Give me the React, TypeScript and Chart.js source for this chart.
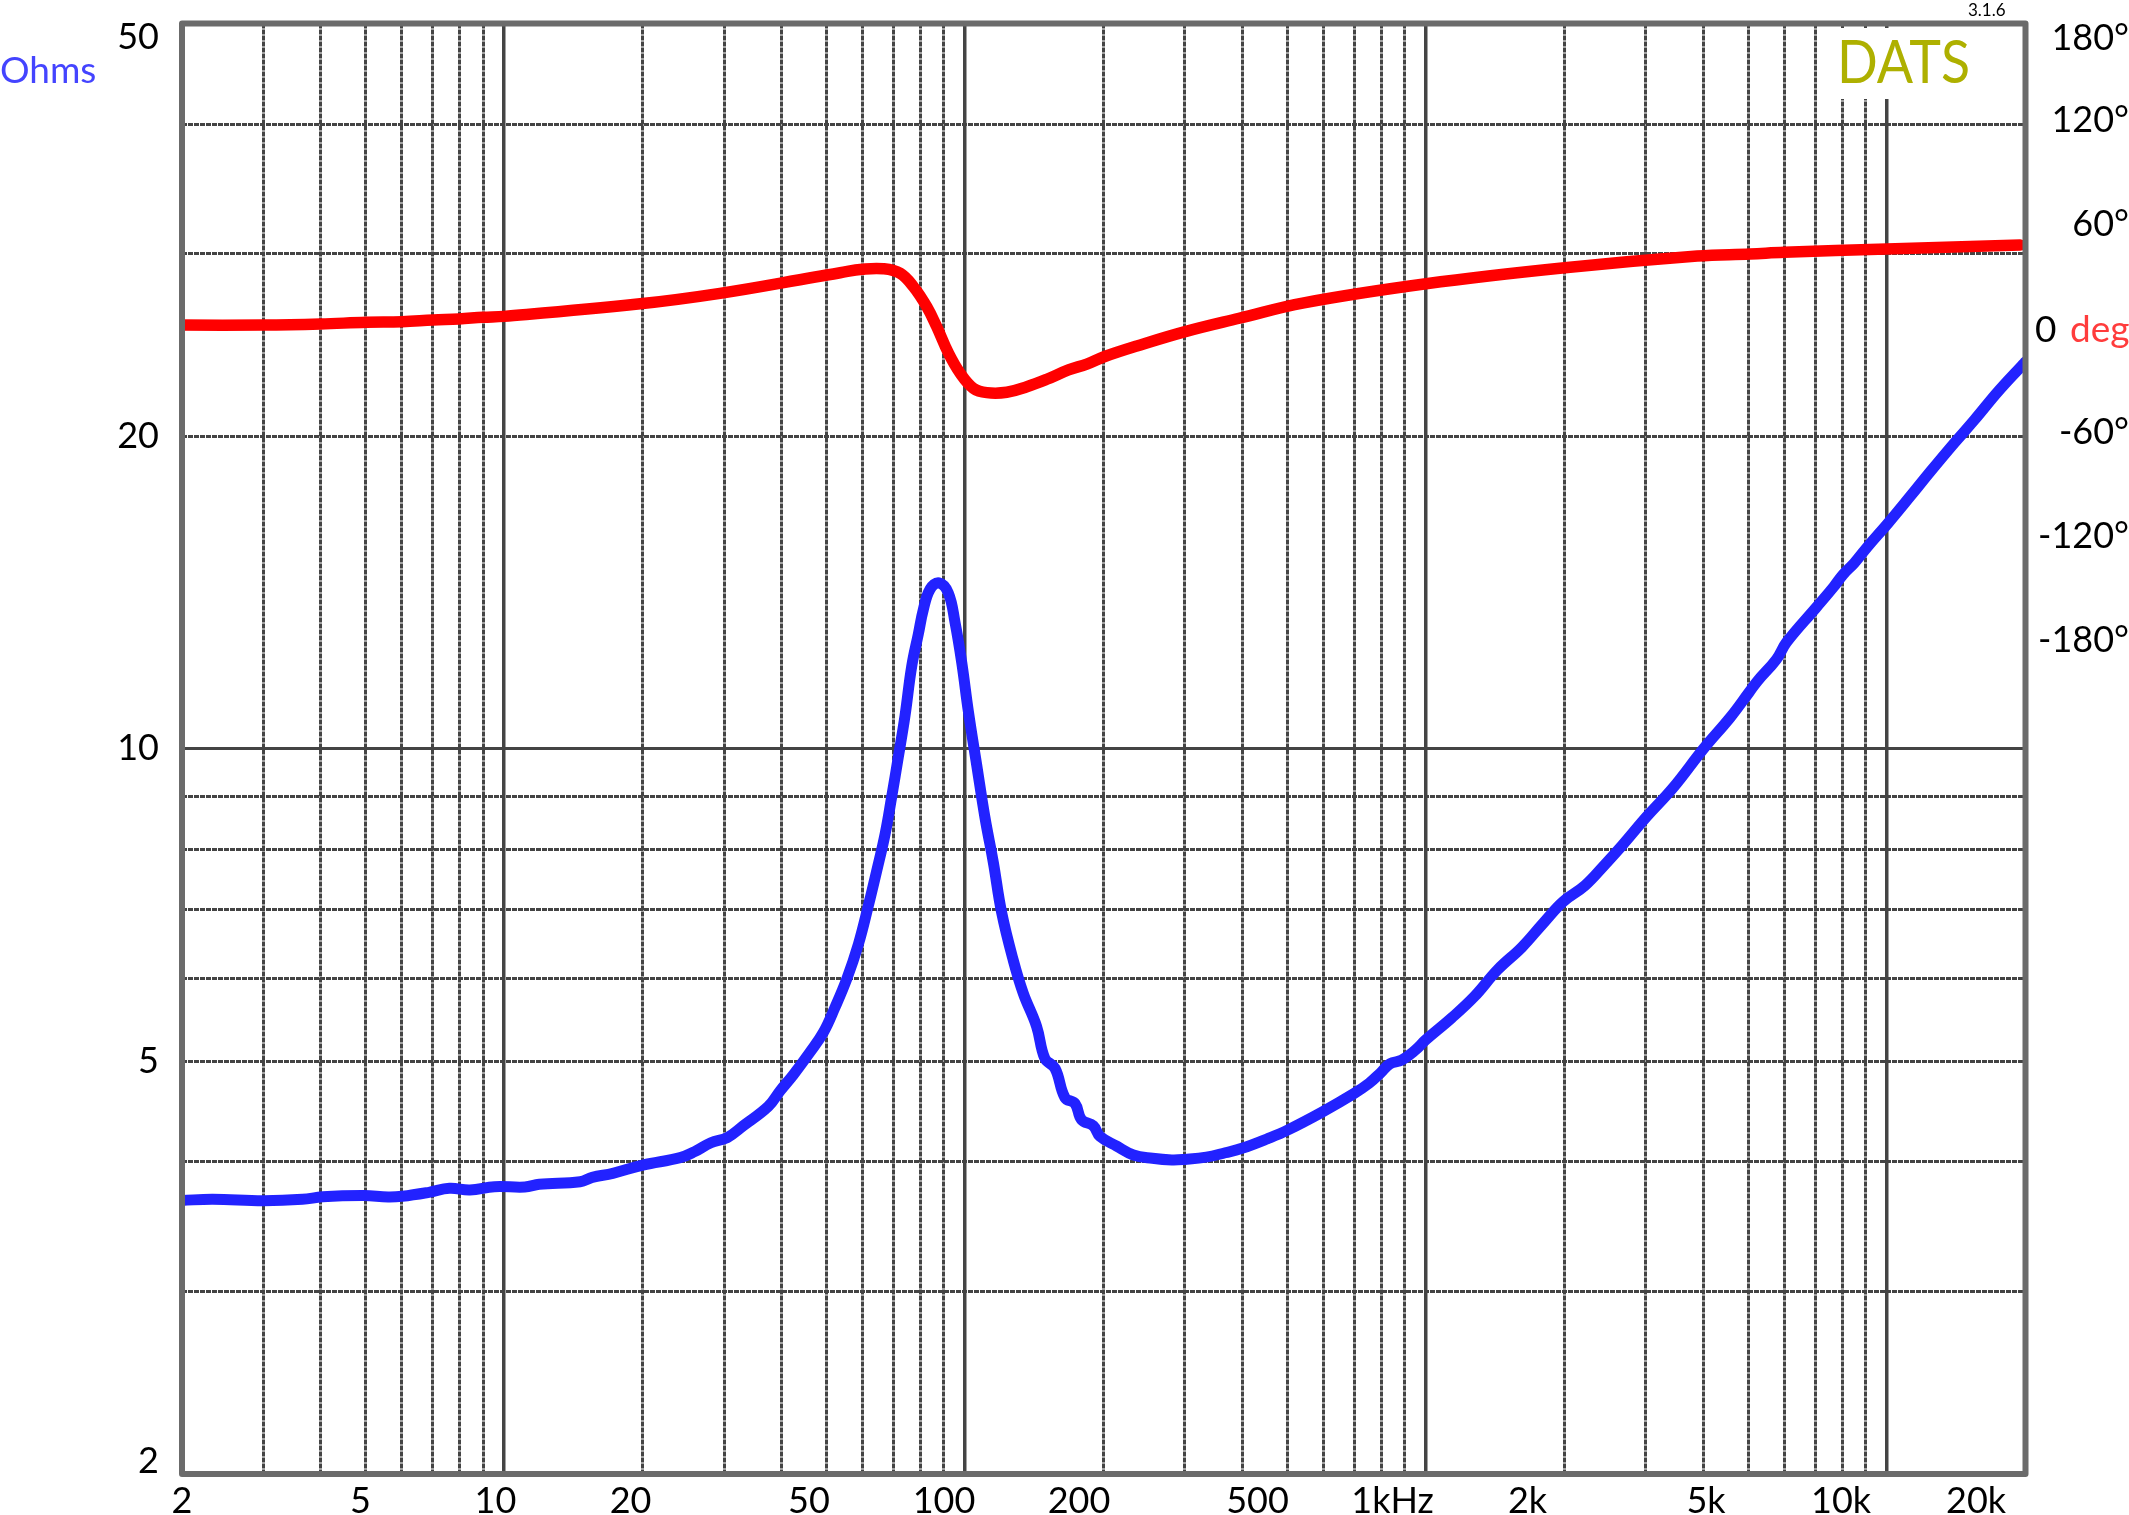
import React, { useEffect, useRef } from 'react';
import Chart from 'chart.js/auto';

// Impedance curve (Hz, ohms)
const impedanceFreq = [
  2, 2.33, 3, 3.65, 4.04, 4.96, 5.6, 6.01, 6.87, 7.61, 8.43, 9.53, 11.09, 11.92, 14.62, 15.53, 17.21, 20, 24.1, 25.9,
  28.1, 30.5, 33, 37.4, 39.7, 42.4, 46.1, 49.3, 52.2, 55.4, 58.7, 61.7, 64.3, 67.1, 69.3, 71.7, 74.1, 76.6, 79.2,
  81.2, 84, 87.8, 92, 95.1, 98.4, 101.7, 106, 110.5, 115.2, 120.1, 127.3, 133.8, 143, 149, 156.8, 164.8, 173.3, 179,
  189.9, 196.3, 213.4, 231.9, 255, 281, 300, 334, 367, 399, 454, 501, 598, 697, 753, 797, 836, 886, 947, 999, 1136,
  1274, 1429, 1617, 1797, 1983, 2213, 2450, 2667, 3013, 3438, 4003, 4583, 5030, 5249, 5760, 6058, 7018,
  7677, 8037, 8500, 9067, 10068, 11234, 12436, 14002, 15505, 17448, 19640, 20000,
];
const impedanceOhms = [
  3.67, 3.68, 3.668, 3.679, 3.7, 3.71, 3.698, 3.704, 3.737, 3.77, 3.756, 3.784, 3.781, 3.804, 3.826, 3.863, 3.898,
  3.97, 4.036, 4.09, 4.172, 4.22, 4.33, 4.52, 4.68, 4.85, 5.1, 5.33, 5.63, 6.0, 6.48, 7.06, 7.62, 8.28, 8.98, 9.83,
  10.76, 12.0, 12.9, 13.62, 14.25, 14.45, 14.13, 13.25, 12.1, 10.86, 9.65, 8.58, 7.77, 6.95, 6.25, 5.81, 5.4, 5.03,
  4.92, 4.61, 4.55, 4.39, 4.33, 4.23, 4.14, 4.06, 4.03, 4.015, 4.02, 4.04, 4.08, 4.12, 4.21, 4.29, 4.47, 4.65, 4.76,
  4.87, 4.97, 5.01, 5.12, 5.24, 5.5, 5.77, 6.12, 6.44, 6.79, 7.12, 7.38, 7.74, 8.07, 8.6, 9.17, 10, 10.73,
  11.34, 11.63, 12.19, 12.66, 13.67, 14.33, 14.72, 15.1, 15.64, 16.5, 17.5, 18.5, 19.7, 20.75, 22.1, 23.4, 23.6,
];

// Phase curve (Hz, degrees)
const phaseFreq = [
  2, 3, 3.99, 5.03, 6, 7.01, 7.98, 9, 10, 19.5, 29.4, 47.3, 53.6, 59.9, 66.5, 72.3, 77.3, 82.6, 86.8, 92.1, 97.6,
  104.3, 111.5, 123.2, 136.2, 150.5, 167.7, 183.8, 200.4, 236, 300.5, 393.4, 543.7, 1001, 1976, 3880, 5055, 5993,
  10000, 19480,
];
const phaseDeg = [
  1.7, 1.7, 2.3, 3.3, 3.6, 4.6, 5.2, 6.2, 6.7, 13.8, 20, 29.4, 31.9, 33.9, 34.2, 31.6, 23.8, 12.3, 0.75, -14.6, -26.1,
  -34.8, -37.3, -37.1, -33.9, -29.6, -24.2, -20.8, -16.6, -10.4, -2.1, 5.6, 14.5, 25.5, 34.6, 41.5, 42.7, 43.7, 45.6,
  47.9,
];

// Grid lines
const xGridValues = [
  2, 3, 4, 5, 6, 7, 8, 9, 10, 20, 30, 40, 50, 60, 70, 80, 90, 100, 200, 300, 400, 500, 600, 700, 800, 900, 1000, 2000,
  3000, 4000, 5000, 6000, 7000, 8000, 9000, 10000, 20000,
];
const xSolidValues = [10, 100, 1000, 10000];
const yGridValues = [3, 4, 5, 6, 7, 8, 9, 10, 20, 30, 40];
const ySolidValues = [10];

// Tick labels. The x labels sit on a slightly tighter decade than the grid,
// and the end labels of the y axes are nudged inside the frame, as in the original.
const xLabelValues = [2, 5, 10, 20, 50, 100, 200, 500, 1000, 2000, 5000, 10000, 20000];
const xLabelTexts = ['2', '5', '10', '20', '50', '100', '200', '500', '1kHz', '2k', '5k', '10k', '20k'];
const xLabelAxisMax = 25776;
const yLabelValues = [2.055, 5, 10, 20, 48.5];
const yLabelTexts = ['2', '5', '10', '20', '50'];
const phaseLabelValues = [-180, -120, -60, 60, 120, 167.3];
const phaseLabelTexts = ['-180°', '-120°', '-60°', '60°', '120°', '180°'];

const FONT = 'Lato';
const GRID_COLOR = '#444444';
const FRAME_COLOR = '#6b6b6b';

const notesPlugin = {
  id: 'notes',
  beforeDatasetsDraw(chart: Chart) {
    // the logo sits on a white patch that hides the top of the 8k-10k lines
    const { ctx } = chart;
    ctx.save();
    ctx.fillStyle = '#ffffff';
    ctx.fillRect(1832, 28, 145, 71);
    ctx.restore();
  },
  afterDatasetsDraw(chart: Chart) {
    const { ctx, chartArea } = chart;
    ctx.save();
    ctx.strokeStyle = FRAME_COLOR;
    ctx.lineWidth = 6;
    ctx.lineJoin = 'round';
    ctx.strokeRect(chartArea.left, chartArea.top, chartArea.width, chartArea.height);

    ctx.textBaseline = 'alphabetic';
    ctx.textAlign = 'left';
    ctx.font = `37px ${FONT}`;
    ctx.fillStyle = '#4444ff';
    ctx.fillText('Ohms', 0, 83);
    ctx.fillStyle = '#000000';
    ctx.fillText('0', 2035, 342);
    ctx.fillStyle = '#ff3c3c';
    ctx.fillText('deg', 2070, 342);
    ctx.fillStyle = '#000000';
    ctx.font = `17px ${FONT}`;
    ctx.fillText('3.1.6', 1968, 16);
    ctx.fillStyle = '#aeb000';
    ctx.font = `60px ${FONT}`;
    ctx.fillText('DATS', 1837, 83, 133);
    ctx.restore();
  },
};

// the label axes must not push the chart area in with their half-label overhang
const noPadding = (s: any) => {
  s.paddingTop = 0;
  s.paddingBottom = 0;
  s.paddingLeft = 0;
  s.paddingRight = 0;
};

const App: React.FC = () => {
  const canvasRef = useRef<HTMLCanvasElement>(null);

  useEffect(() => {
    document.body.style.margin = '0';
    if (!canvasRef.current) return;

    const tickFont = { family: FONT, size: 36 };
    const gridDash = (solid: number[]) => (ctx: any) => (ctx.tick && solid.includes(ctx.tick.value) ? [] : [5, 1]);
    const gridWidth = (solid: number[], w: number) => (ctx: any) => (ctx.tick && solid.includes(ctx.tick.value) ? w : 3);

    const chart = new Chart(canvasRef.current, {
      type: 'line',
      data: {
        datasets: [
          {
            label: 'Phase',
            data: phaseFreq.map((f, i) => ({ x: f, y: phaseDeg[i] })),
            yAxisID: 'phase',
            borderColor: '#ff0000',
            borderWidth: 11.5,
            borderCapStyle: 'round',
            borderJoinStyle: 'round',
            pointRadius: 0,
            tension: 0.4,
          },
          {
            label: 'Impedance',
            data: impedanceFreq.map((f, i) => ({ x: f, y: impedanceOhms[i] })),
            yAxisID: 'y',
            borderColor: '#2222ff',
            borderWidth: 11,
            borderCapStyle: 'round',
            borderJoinStyle: 'round',
            pointRadius: 0,
            tension: 0.4,
          },
        ],
      },
      plugins: [notesPlugin],
      options: {
        responsive: false,
        animation: false,
        devicePixelRatio: 1,
        layout: { autoPadding: false, padding: { top: 23.5 } },
        plugins: { legend: { display: false }, title: { display: false }, tooltip: { enabled: false } },
        scales: {
          x: {
            type: 'logarithmic',
            position: 'bottom',
            min: 2,
            max: 20000,
            weight: 0,
            ticks: { display: false },
            border: { display: false, dash: gridDash(xSolidValues) },
            grid: { color: GRID_COLOR, lineWidth: gridWidth(xSolidValues, 3.5), drawTicks: false },
            afterBuildTicks: (s: any) => {
              s.ticks = xGridValues.map((value) => ({ value }));
            },
            afterFit: (s: any) => {
              s.height = 0;
              noPadding(s);
            },
          },
          xLabels: {
            type: 'logarithmic',
            position: 'bottom',
            min: 2,
            max: xLabelAxisMax,
            weight: 1,
            border: { display: false },
            grid: { display: false, drawTicks: false },
            ticks: {
              autoSkip: false,
              maxRotation: 0,
              minRotation: 0,
              padding: 6,
              color: '#000000',
              font: tickFont,
              callback: (_v: any, i: number) => xLabelTexts[i],
            },
            afterBuildTicks: (s: any) => {
              s.ticks = xLabelValues.map((value) => ({ value }));
            },
            afterFit: (s: any) => {
              s.height = 41;
              noPadding(s);
            },
          },
          y: {
            type: 'logarithmic',
            position: 'left',
            min: 2,
            max: 50,
            weight: 0,
            ticks: { display: false },
            border: { display: false, dash: gridDash(ySolidValues) },
            grid: { color: GRID_COLOR, lineWidth: gridWidth(ySolidValues, 3), drawTicks: false },
            afterBuildTicks: (s: any) => {
              s.ticks = yGridValues.map((value) => ({ value }));
            },
            afterFit: (s: any) => {
              s.width = 0;
              noPadding(s);
            },
          },
          yLabels: {
            type: 'logarithmic',
            position: 'left',
            min: 2,
            max: 50,
            weight: 1,
            border: { display: false },
            grid: { display: false, drawTicks: false },
            ticks: {
              autoSkip: false,
              padding: 23,
              color: '#000000',
              font: tickFont,
              callback: (_v: any, i: number) => yLabelTexts[i],
            },
            afterBuildTicks: (s: any) => {
              s.ticks = yLabelValues.map((value) => ({ value }));
            },
            afterFit: (s: any) => {
              s.width = 182;
              noPadding(s);
            },
          },
          phase: {
            type: 'linear',
            position: 'right',
            min: -661.3,
            max: 175.7,
            border: { display: false },
            grid: { display: false, drawTicks: false },
            ticks: {
              autoSkip: false,
              crossAlign: 'far',
              padding: 0,
              color: '#000000',
              font: tickFont,
              callback: (_v: any, i: number) => phaseLabelTexts[i],
            },
            afterBuildTicks: (s: any) => {
              s.ticks = phaseLabelValues.map((value) => ({ value }));
            },
            afterFit: (s: any) => {
              s.width = 103.5;
              noPadding(s);
            },
          },
        },
      },
    } as any);

    return () => chart.destroy();
  }, []);

  return (
    <div style={{ width: 2129, height: 1515, background: '#ffffff' }}>
      <canvas ref={canvasRef} width={2129} height={1515} style={{ display: 'block' }} />
    </div>
  );
};

export default App;
